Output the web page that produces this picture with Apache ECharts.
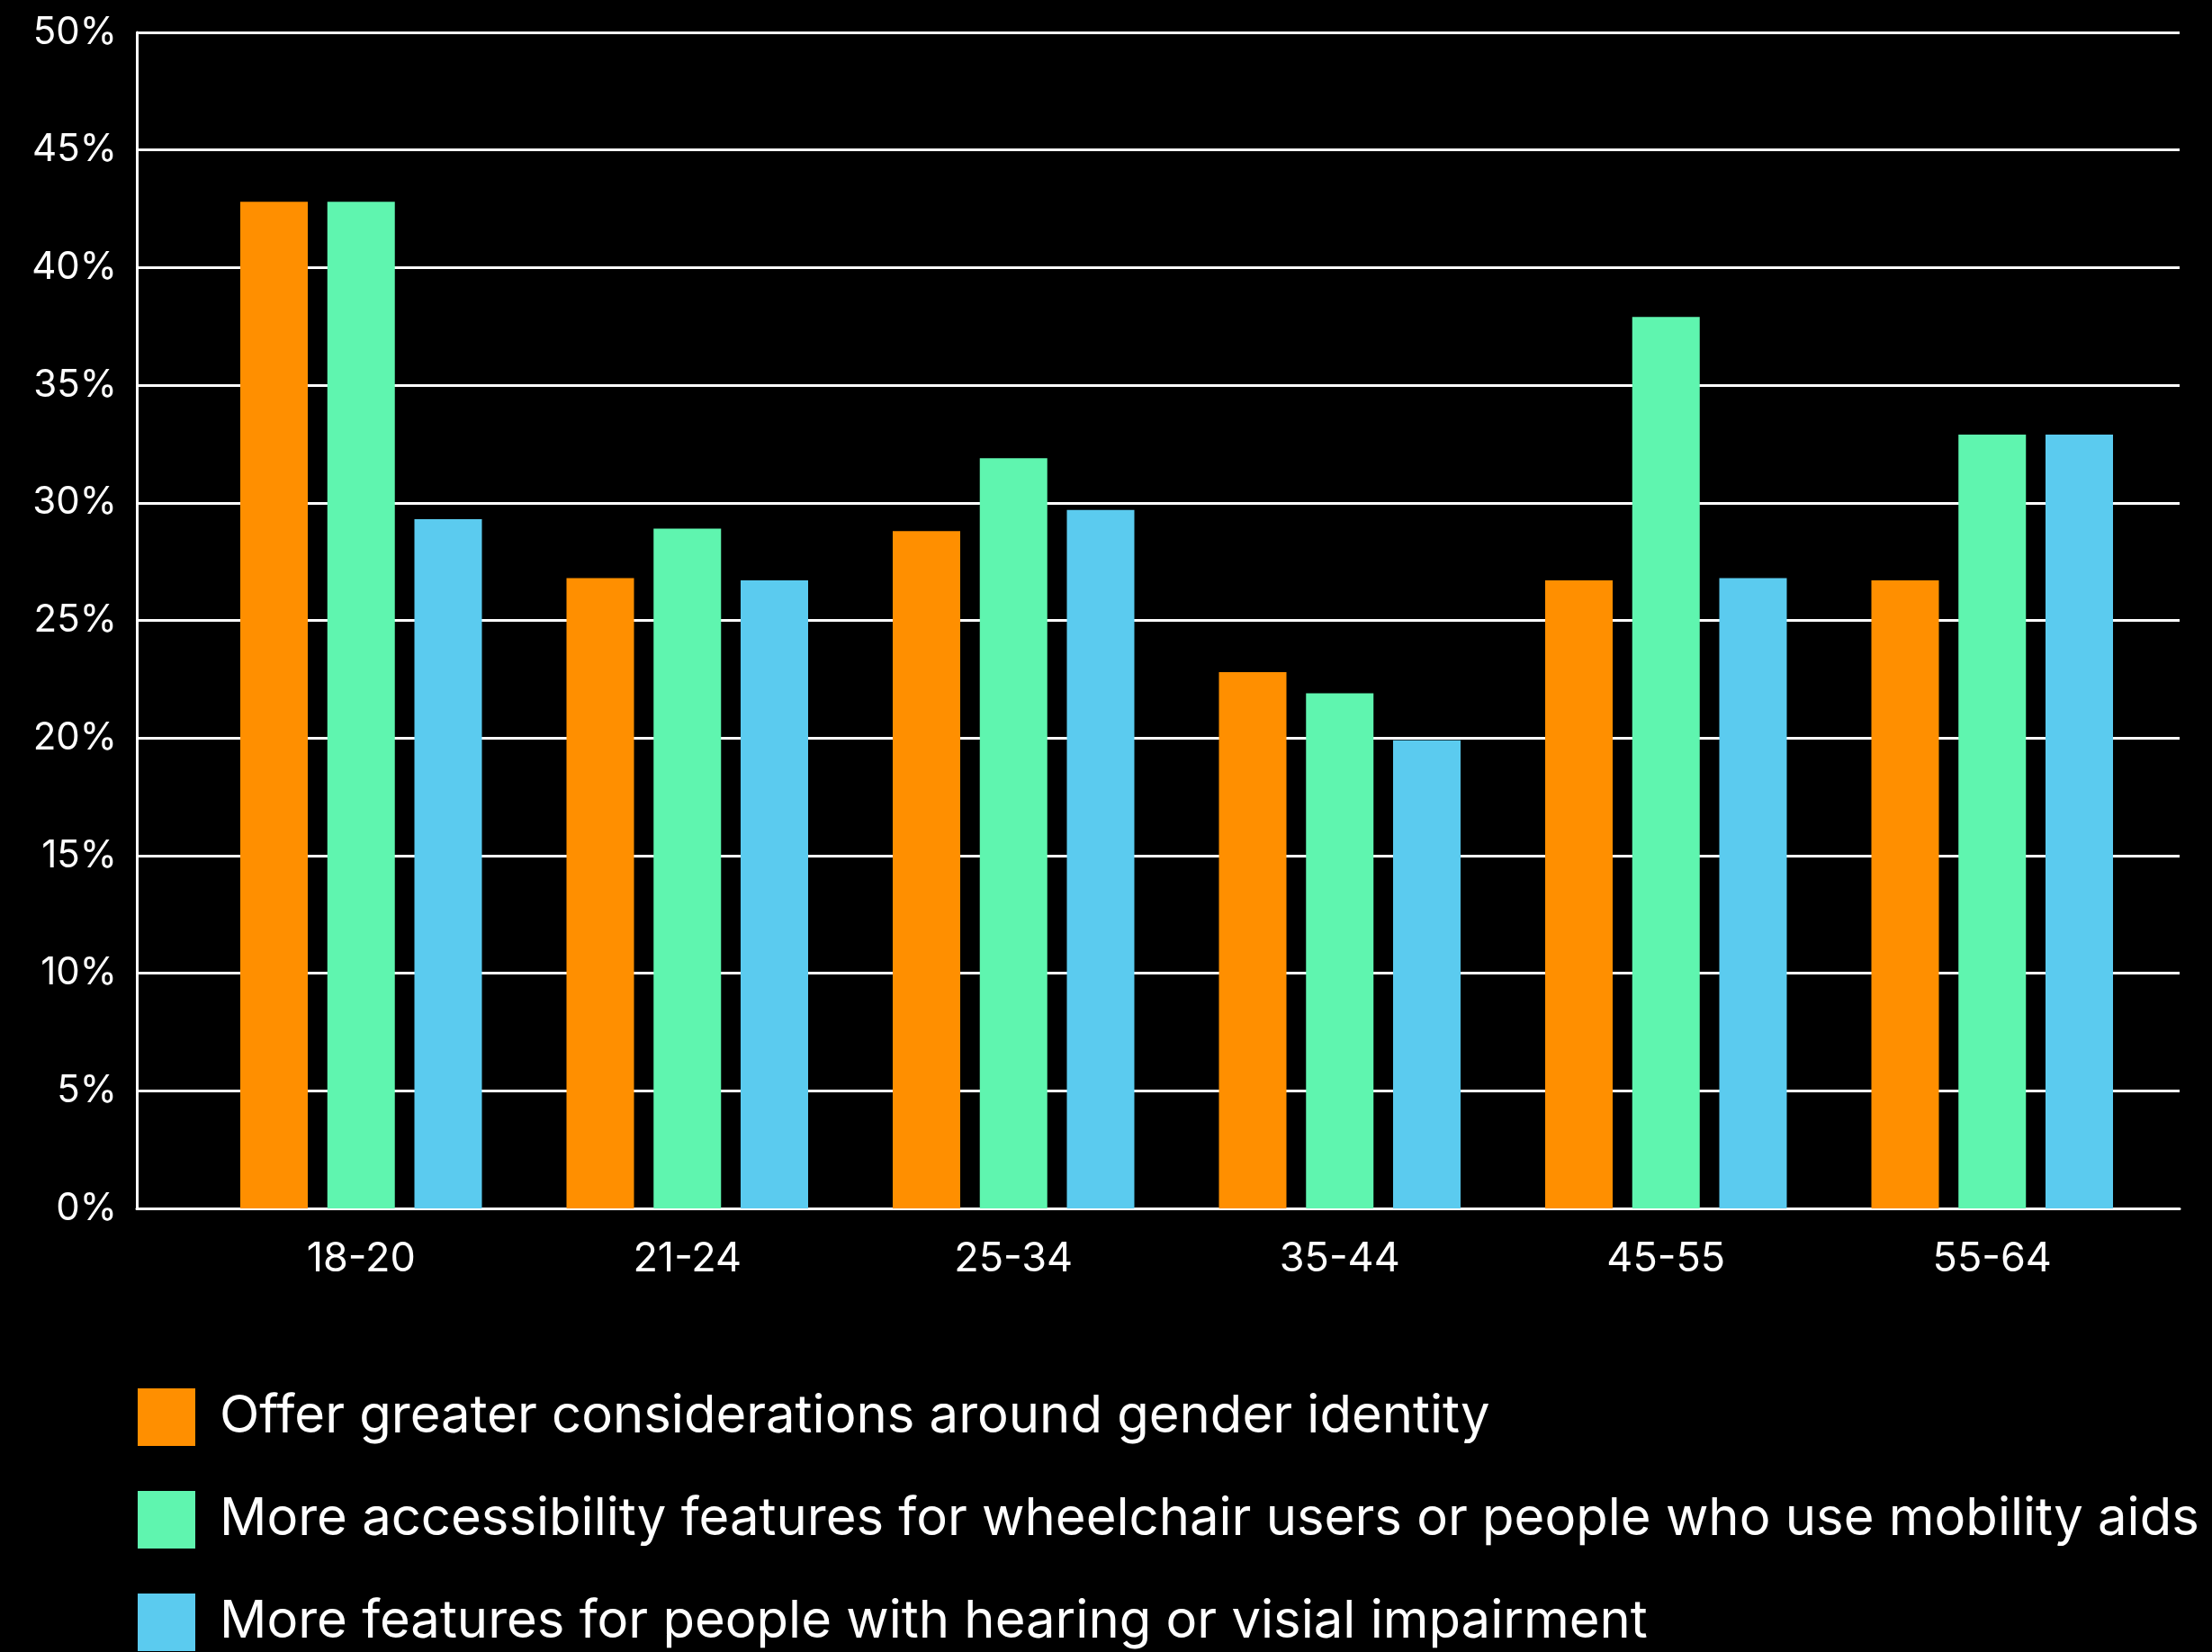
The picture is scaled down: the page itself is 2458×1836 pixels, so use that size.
<!DOCTYPE html>
<html>
<head>
<meta charset="utf-8">
<style>
html,body{margin:0;padding:0;background:#000;}
#chart{width:2458px;height:1836px;}
</style>
<script src="https://cdn.jsdelivr.net/npm/echarts@6/dist/echarts.min.js"></script>
</head>
<body>
<div id="chart"></div>
<script>
const categories = ['18-20', '21-24', '25-34', '35-44', '45-55', '55-64'];
const seriesNames = [
  'Offer greater considerations around gender identity',
  'More accessibility features for wheelchair users or people who use mobility aids',
  'More features for people with hearing or visial impairment'
];
const genderValues = [42.8, 26.8, 28.8, 22.8, 26.7, 26.7];
const mobilityValues = [42.8, 28.9, 31.9, 21.9, 37.9, 32.9];
const hearingValues = [29.3, 26.7, 29.7, 19.9, 26.8, 32.9];
const colors = ['#ff8f00', '#5ff5af', '#5bcbef'];
const yTicks = { min: 0, max: 50, interval: 5 };

const FONT = 'Inter, "Noto Sans", sans-serif';
const chart = echarts.init(document.getElementById('chart'), null, { renderer: 'canvas' });
const valuesList = [genderValues, mobilityValues, hearingValues];

const legendTops = [1543, 1657, 1771];
chart.setOption({
  backgroundColor: '#000',
  animation: false,
  grid: [
    { left: 152, right: 36, top: 36, bottom: 493 },
    { left: 220, right: 63, top: 36, bottom: 493 }
  ],
  legend: seriesNames.map((name, i) => ({
    orient: 'vertical',
    left: 153,
    top: legendTops[i],
    padding: 0,
    itemWidth: 64,
    itemHeight: 64,
    icon: 'rect',
    data: [name],
    textStyle: { color: '#fff', fontSize: 58, fontFamily: FONT, padding: [0, 0, 0, 22] }
  })),
  xAxis: [
    {
      gridIndex: 0, type: 'value', min: 0, max: 1,
      axisLine: { show: true, lineStyle: { color: '#fff', width: 3 } },
      axisTick: { show: false }, axisLabel: { show: false }, splitLine: { show: false }
    },
    {
      gridIndex: 1, type: 'category', data: categories,
      axisLine: { show: false }, axisTick: { show: false },
      axisLabel: { color: '#fff', fontSize: 45, fontFamily: FONT, margin: 34 }
    }
  ],
  yAxis: [
    {
      gridIndex: 0, type: 'value', min: yTicks.min, max: yTicks.max, interval: yTicks.interval,
      axisLine: { show: true, lineStyle: { color: '#fff', width: 3 } },
      axisTick: { show: false },
      axisLabel: { color: '#fff', fontSize: 42, fontFamily: FONT, margin: 22, formatter: '{value}%' },
      splitLine: { show: true, lineStyle: { color: '#fff', width: 3 } }
    },
    {
      gridIndex: 1, type: 'value', min: yTicks.min, max: yTicks.max, show: false
    }
  ],
  series: seriesNames.map((name, i) => ({
    name: name,
    type: 'bar',
    xAxisIndex: 1,
    yAxisIndex: 1,
    data: valuesList[i],
    barWidth: 75,
    barGap: '29%',
    itemStyle: { color: colors[i] },
    z: 3
  }))
});
</script>
</body>
</html>
